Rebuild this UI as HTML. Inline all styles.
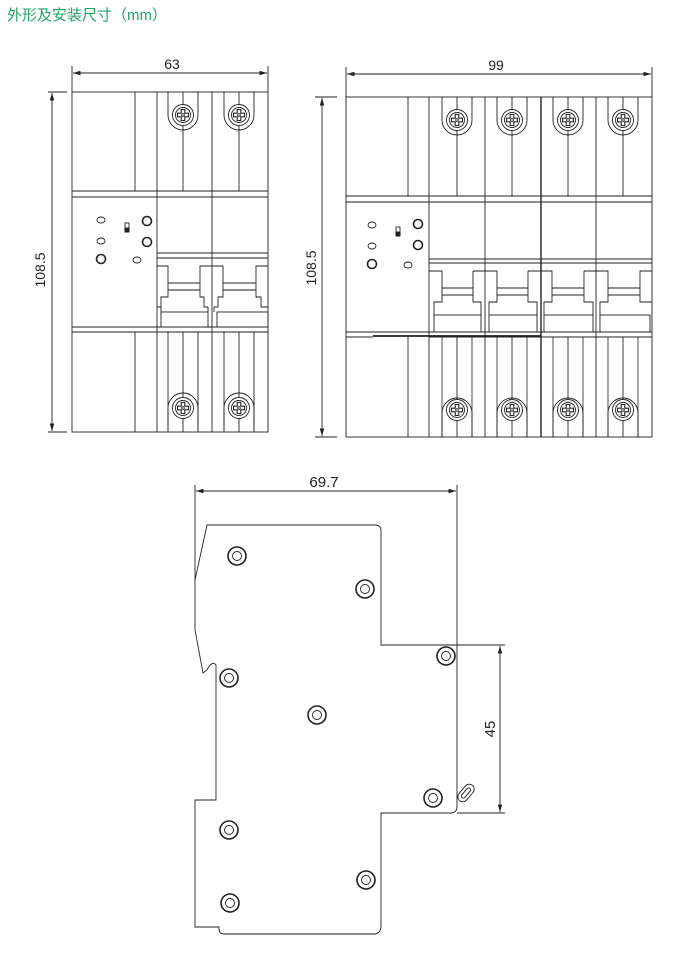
<!DOCTYPE html>
<html><head><meta charset="utf-8"><style>
html,body{margin:0;padding:0;background:#fff;}
.t{position:absolute;left:7px;top:4px;font:15px "Liberation Sans","Noto Sans CJK SC",sans-serif;color:#1fa563;}
</style></head><body>
<div style="position:relative;width:676px;height:954px;overflow:hidden">
<div class="t">外形及安装尺寸（mm）</div>
<svg width="676" height="954" viewBox="0 0 676 954" style="position:absolute;left:0;top:0" fill="none" stroke="#222" stroke-width="0.9" font-family="Liberation Sans, sans-serif">
<defs>
<g id="sc"><circle r="10.5" fill="#fff"/><circle r="7.5"/><path d="M-1.8,-5.5H1.8V-1.8H5.5V1.8H1.8V5.5H-1.8V1.8H-5.5V-1.8H-1.8Z" stroke-width="1.1"/><circle r="1.3"/></g>
<g id="lt"><path d="M-15,0V23A15,15 0 0 0 15,23V0"/><line x1="0" y1="0" x2="0" y2="99"/></g>
<g id="lb"><path d="M-15,0V-24A15,15 0 0 1 15,-24V0"/><line x1="0" y1="0" x2="0" y2="-100"/></g>
<g id="ss"><circle r="9" stroke-width="1.6"/><circle r="4.5"/></g>
<marker id="ar" viewBox="0 0 10 6" refX="10" refY="3" markerWidth="9" markerHeight="5" orient="auto-start-reverse"><path d="M0,0L10,3L0,6z" fill="#222" stroke="none"/></marker>
</defs>

<!-- LEFT DRAWING -->
<line x1="72" y1="66" x2="72" y2="92"/><line x1="268" y1="66" x2="268" y2="92"/>
<line x1="73" y1="73" x2="267" y2="73" marker-start="url(#ar)" marker-end="url(#ar)"/>
<text x="172" y="69" font-size="14" fill="#222" stroke="none" text-anchor="middle">63</text>
<line x1="48" y1="92" x2="67" y2="92"/><line x1="48" y1="432" x2="67" y2="432"/>
<line x1="52" y1="93" x2="52" y2="431" marker-start="url(#ar)" marker-end="url(#ar)"/>
<text transform="translate(45,270) rotate(-90)" font-size="14" fill="#222" stroke="none" text-anchor="middle">108.5</text>
<rect x="72" y="92" width="196" height="340"/>
<line x1="72" y1="191" x2="268" y2="191"/><line x1="72" y1="197" x2="268" y2="197"/>
<line x1="72" y1="327" x2="268" y2="327"/><line x1="72" y1="332" x2="268" y2="332"/>
<line x1="135" y1="92" x2="135" y2="191"/><line x1="135" y1="332" x2="135" y2="432"/>
<line x1="157" y1="92" x2="157" y2="432"/><line x1="212" y1="92" x2="212" y2="432"/>
<line x1="168" y1="332" x2="168" y2="432"/><line x1="198" y1="332" x2="198" y2="432"/>
<line x1="224" y1="332" x2="224" y2="432"/><line x1="254" y1="332" x2="254" y2="432"/>
<use href="#lt" x="183" y="92"/><use href="#lt" x="239" y="92"/>
<use href="#lb" x="183" y="432"/><use href="#lb" x="239" y="432"/>
<use href="#sc" x="183" y="115"/><use href="#sc" x="239" y="115"/>
<use href="#sc" x="183" y="408"/><use href="#sc" x="239" y="408"/>
<ellipse cx="101" cy="220" rx="4" ry="3"/><ellipse cx="101" cy="241" rx="4" ry="3"/>
<circle cx="101" cy="259" r="4.5" stroke-width="1.6"/>
<rect x="125" y="223" width="4" height="9"/><rect x="125" y="228" width="4" height="4" fill="#222"/>
<circle cx="147" cy="221" r="4.5" stroke-width="1.6"/><circle cx="147" cy="242" r="4.5" stroke-width="1.6"/>
<ellipse cx="137" cy="260" rx="4" ry="3"/>
<line x1="157" y1="253" x2="268" y2="253"/><line x1="157" y1="258" x2="268" y2="258"/>
<path d="M157,266H168V297H161V307H157"/>
<path d="M212,266H200V297H204V307H208M212,266H223V297H218V307H214"/>
<path d="M268,266H256V297H261V307H268"/>
<path d="M168,283H200M168,290H200M223,283H256M223,290H256"/>
<rect x="161" y="312" width="47" height="15"/><rect x="217" y="312" width="51" height="15"/>
<path d="M161,307V312M208,307V312M214,307V312"/>

<!-- RIGHT DRAWING -->
<line x1="346" y1="67" x2="346" y2="97"/><line x1="652" y1="67" x2="652" y2="97"/>
<line x1="347" y1="74" x2="651" y2="74" marker-start="url(#ar)" marker-end="url(#ar)"/>
<text x="496" y="70" font-size="14" fill="#222" stroke="none" text-anchor="middle">99</text>
<line x1="315" y1="97" x2="337" y2="97"/><line x1="315" y1="437" x2="337" y2="437"/>
<line x1="322" y1="98" x2="322" y2="436" marker-start="url(#ar)" marker-end="url(#ar)"/>
<text transform="translate(316,268) rotate(-90)" font-size="14" fill="#222" stroke="none" text-anchor="middle">108.5</text>
<rect x="346" y="97" width="306" height="340"/>
<line x1="346" y1="196" x2="652" y2="196"/><line x1="346" y1="202" x2="652" y2="202"/>
<line x1="346" y1="332" x2="652" y2="332"/><line x1="429" y1="337" x2="652" y2="337"/><line x1="346" y1="337" x2="373" y2="337"/>
<line x1="373" y1="336" x2="541" y2="336" stroke-width="1.8"/>
<line x1="408" y1="97" x2="408" y2="196"/><line x1="408" y1="337" x2="408" y2="437"/>
<line x1="429" y1="97" x2="429" y2="437"/><line x1="485" y1="97" x2="485" y2="437"/>
<line x1="541" y1="97" x2="541" y2="437" stroke-width="1.4"/><line x1="596" y1="97" x2="596" y2="437"/>
<use href="#lt" x="457" y="97"/><use href="#lt" x="512" y="97"/><use href="#lt" x="568" y="97"/><use href="#lt" x="623" y="97"/>
<use href="#lb" x="457" y="437"/><use href="#lb" x="512" y="437"/><use href="#lb" x="568" y="437"/><use href="#lb" x="623" y="437"/>
<g stroke-width="0.8"><line x1="442" y1="337" x2="442" y2="437"/><line x1="472" y1="337" x2="472" y2="437"/><line x1="497" y1="337" x2="497" y2="437"/><line x1="527" y1="337" x2="527" y2="437"/><line x1="553" y1="337" x2="553" y2="437"/><line x1="583" y1="337" x2="583" y2="437"/><line x1="608" y1="337" x2="608" y2="437"/><line x1="638" y1="337" x2="638" y2="437"/></g>
<use href="#sc" x="457" y="120"/><use href="#sc" x="512" y="120"/><use href="#sc" x="568" y="120"/><use href="#sc" x="623" y="120"/>
<use href="#sc" x="457" y="410"/><use href="#sc" x="512" y="410"/><use href="#sc" x="568" y="410"/><use href="#sc" x="623" y="410"/>
<ellipse cx="372" cy="225" rx="4" ry="3"/><ellipse cx="372" cy="246" rx="4" ry="3"/>
<circle cx="372" cy="264" r="4.5" stroke-width="1.6"/>
<rect x="396" y="227" width="4" height="9"/><rect x="396" y="232" width="4" height="4" fill="#222"/>
<circle cx="418" cy="224" r="4.5" stroke-width="1.6"/><circle cx="418" cy="245" r="4.5" stroke-width="1.6"/>
<ellipse cx="408" cy="265" rx="4" ry="3"/>
<line x1="429" y1="259" x2="652" y2="259"/><line x1="429" y1="263" x2="652" y2="263"/>
<path d="M429,271H442V302H434V315"/>
<path d="M473,271H497V302H489V315M473,271V302H481V315"/>
<path d="M528,271H552V302H544V315M528,271V302H537V315"/>
<path d="M584,271H608V302H600V315M584,271V302H593V315"/>
<path d="M652,271H640V302H652"/>
<path d="M442,288H473M442,295H473M497,288H528M497,295H528M552,288H584M552,295H584M608,288H640M608,295H640"/>
<rect x="434" y="315" width="47" height="17"/><rect x="489" y="315" width="48" height="17"/>
<rect x="544" y="315" width="49" height="17"/><rect x="600" y="315" width="50" height="17"/>

<!-- BOTTOM SIDE VIEW -->
<line x1="195" y1="485" x2="195" y2="580"/><line x1="457" y1="485" x2="457" y2="645"/>
<line x1="196" y1="491" x2="456" y2="491" marker-start="url(#ar)" marker-end="url(#ar)"/>
<text x="324" y="487" font-size="15" fill="#222" stroke="none" text-anchor="middle">69.7</text>
<path d="M207,525H375Q381,525 381,531V645H457V807Q457,812 452,813H381V926Q381,933 375,934H224Q219,934 219,929V927H195V800H216V665Q212,660 207,670L203,673L195,630V580L207,525Z"/>
<line x1="457" y1="645" x2="505" y2="645"/><line x1="457" y1="813" x2="505" y2="813"/>
<line x1="500" y1="646" x2="500" y2="812" marker-start="url(#ar)" marker-end="url(#ar)"/>
<text transform="translate(495,729) rotate(-90)" font-size="15" fill="#222" stroke="none" text-anchor="middle">45</text>
<g transform="translate(466,793) rotate(-50)"><rect x="-10" y="-5" width="20" height="10" rx="5"/><rect x="-6" y="-2" width="12" height="4" rx="2"/></g>
<use href="#ss" x="237" y="556"/><use href="#ss" x="365" y="589"/><use href="#ss" x="446" y="656"/>
<use href="#ss" x="229" y="678"/><use href="#ss" x="317" y="715"/><use href="#ss" x="433" y="798"/>
<use href="#ss" x="229" y="830"/><use href="#ss" x="366" y="880"/><use href="#ss" x="230" y="903"/>
</svg>
</div>
</body></html>
